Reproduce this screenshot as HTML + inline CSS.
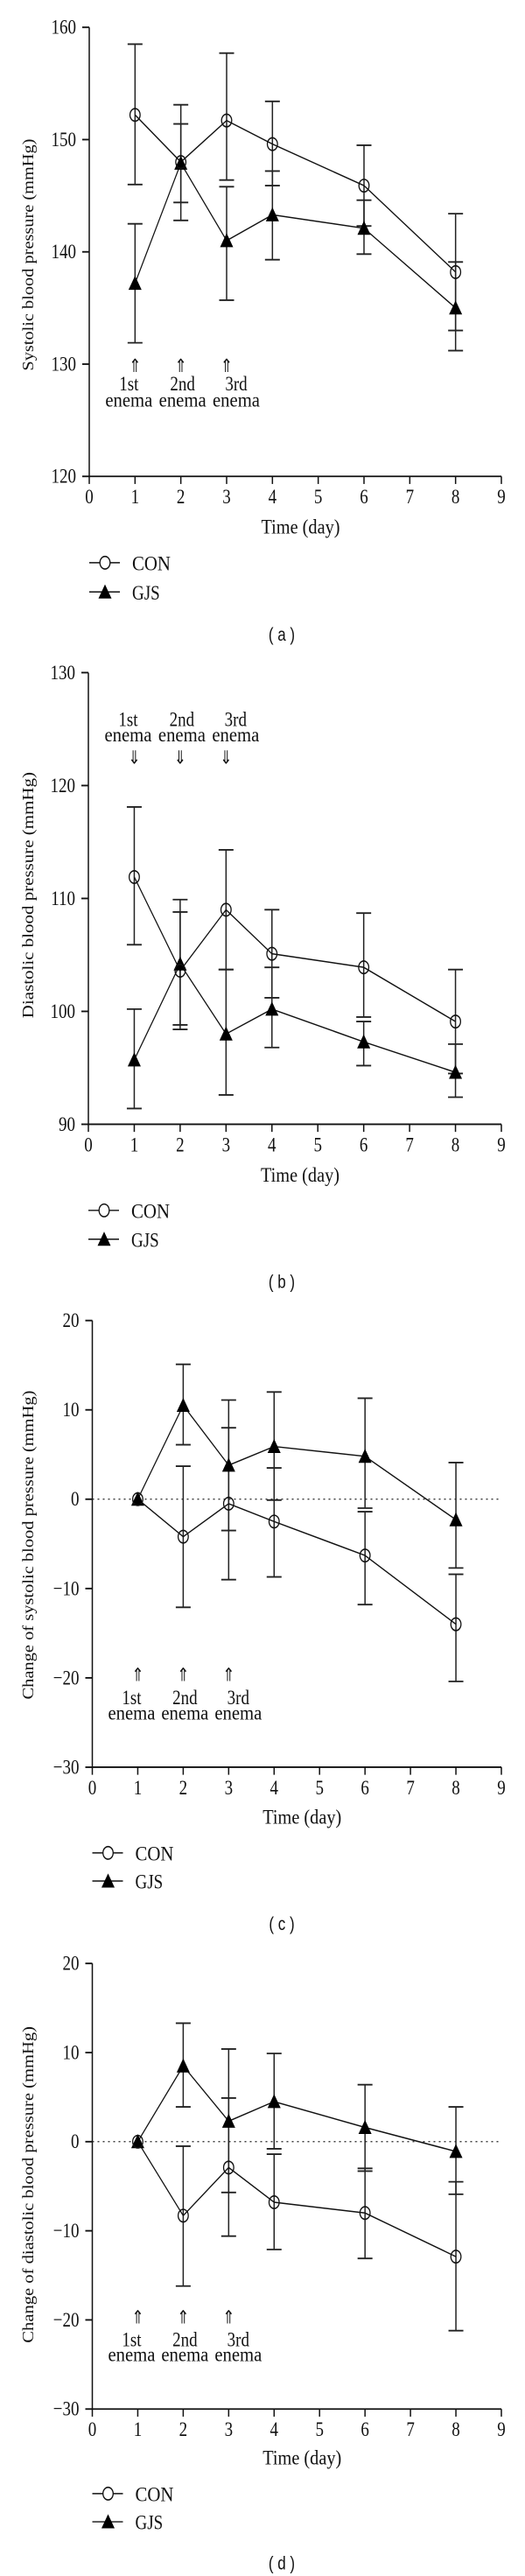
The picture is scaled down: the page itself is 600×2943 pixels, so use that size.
<!DOCTYPE html>
<html><head><meta charset="utf-8"><style>
html,body{margin:0;padding:0;background:#fff;}
svg{display:block;}
text{font-family:"Liberation Serif",serif;fill:#111;}
.sans{font-family:"Liberation Sans",sans-serif;}
</style></head><body>
<svg id="fig" width="600" height="2943" viewBox="0 0 600 2376" preserveAspectRatio="none" xmlns="http://www.w3.org/2000/svg"></svg>
<script>
// ---- data ----
const days = [1, 2, 3, 4, 6, 8];
const xTicks = [0,1,2,3,4,5,6,7,8,9];
const enemaLabels = ["1st", "2nd", "3rd"];
const enemaDays = [1, 2, 3];

// Panel a: systolic
const aTicks = [120, 130, 140, 150, 160];
const aConMean = [152.2, 148.0, 151.7, 149.6, 145.9, 138.2];
const aConHi   = [158.5, 151.4, 157.7, 153.4, 149.5, 143.4];
const aConLo   = [146.0, 144.4, 146.4, 145.9, 142.3, 133.0];
const aGjsMean = [137.2, 147.9, 141.0, 143.3, 142.1, 135.0];
const aGjsHi   = [142.5, 153.1, 145.8, 147.2, 144.6, 139.1];
const aGjsLo   = [131.9, 142.8, 135.7, 139.3, 139.8, 131.2];

// Panel b: diastolic
const bTicks = [90, 100, 110, 120, 130];
const bConMean = [111.9, 103.6, 109.0, 105.1, 103.9, 99.1];
const bConHi   = [118.1, 108.8, 114.3, 109.0, 108.7, 103.7];
const bConLo   = [105.9, 98.8, 103.7, 101.2, 99.5, 94.5];
const bGjsMean = [95.7, 104.2, 98.0, 100.2, 97.3, 94.6];
const bGjsHi   = [100.2, 109.9, 103.7, 103.9, 99.1, 97.1];
const bGjsLo   = [91.4, 98.4, 92.6, 96.8, 95.2, 92.4];

// Panel c: change of systolic
const cTicks = [-30, -20, -10, 0, 10, 20];
const cConMean = [0, -4.2, -0.5, -2.5, -6.3, -14.0];
const cConHi   = [0, 3.7, 8.0, 3.5, -1.4, -8.4];
const cConLo   = [0, -12.1, -9.0, -8.7, -11.8, -20.4];
const cGjsMean = [0, 10.5, 3.8, 5.9, 4.8, -2.3];
const cGjsHi   = [0, 15.1, 11.1, 12.0, 11.3, 4.1];
const cGjsLo   = [0, 6.1, -3.5, -0.1, -1.0, -7.7];

// Panel d: change of diastolic
const dTicks = [-30, -20, -10, 0, 10, 20];
const dConMean = [0, -8.3, -2.9, -6.8, -8.0, -12.9];
const dConHi   = [0, -0.5, 4.9, -1.4, -3.0, -4.5];
const dConLo   = [0, -16.2, -10.6, -12.1, -13.1, -21.2];
const dGjsMean = [0, 8.5, 2.3, 4.5, 1.6, -1.1];
const dGjsHi   = [0, 13.3, 10.4, 9.9, 6.4, 3.9];
const dGjsLo   = [0, 3.9, -5.7, -0.8, -3.3, -5.9];

const NS = "http://www.w3.org/2000/svg";
const svg = document.getElementById('fig');
function mk(tag, attrs, parent) {
  const e = document.createElementNS(NS, tag);
  for (const k in attrs) e.setAttribute(k, attrs[k]);
  (parent || svg).appendChild(e);
  return e;
}

function drawPanel(p) {
  const g = mk('g', {});
  
  
  const x = v => p.x0 + (v - 0) * (p.x9 - p.x0) / 9;
  const y = v => p.yBot + (v - p.yMin) * (p.yTop - p.yBot) / (p.yMax - p.yMin);
  const ax = mk('path', {d: `M${p.x0},${y(p.yMax)} L${p.x0},${p.yBot} L${p.x9},${p.yBot}`, fill: 'none', stroke: '#111', 'stroke-width': 1.5}, g);
  
  
  p.yTicks.forEach(t => {
    mk('line', {x1: p.x0 - 8, x2: p.x0, y1: y(t), y2: y(t), stroke: '#111', 'stroke-width': 1.5}, g);
    const tl = mk('text', {x: p.x0 - 15, y: y(t) + 6, 'text-anchor': 'end', 'font-size': 19}, g);
    tl.textContent = t < 0 ? '\u2212' + Math.abs(t) : String(t);
    
    
  });
  xTicks.forEach(t => {
    mk('line', {x1: x(t), x2: x(t), y1: p.yBot, y2: p.yBot + 7, stroke: '#111', 'stroke-width': 1.5}, g);
    const tl = mk('text', {x: x(t), y: p.yBot + 25, 'text-anchor': 'middle', 'font-size': 19}, g);
    tl.textContent = String(t);
    
    
  });
  const xt = mk('text', {x: (p.x0 + p.x9) / 2 + 6, y: p.timeY + 7, 'text-anchor': 'middle', 'font-size': 19, textLength: 90, lengthAdjust: 'spacingAndGlyphs'}, g);
  xt.textContent = 'Time (day)';
  
  
  const yt = mk('text', {x: 0, y: 0, 'text-anchor': 'middle', 'font-size': 18, textLength: p.titleLen, lengthAdjust: 'spacingAndGlyphs', transform: `translate(38,${p.titleY}) rotate(-90)`}, g);
  yt.textContent = p.title;
  
  
  if (p.zeroLine) {
    const zl = mk('line', {x1: p.x0, x2: p.x9, y1: y(0), y2: y(0), stroke: '#222', 'stroke-width': 1, 'stroke-dasharray': '2,4'}, g);
    
    
  }
  enemaDays.forEach((d, i) => {
    const ar = mk('text', {x: x(d), y: p.arrowY + 7, 'text-anchor': 'middle', 'font-size': 17}, g);
    ar.textContent = p.arrowDown ? '\u21D3' : '\u21D1';
    
    
    const cx = x(d) - 7 + i * 9;
    const l1 = mk('text', {x: cx, y: p.l1Y + 7, 'text-anchor': 'middle', 'font-size': 19}, g);
    l1.textContent = enemaLabels[i];
    
    
    const l2 = mk('text', {x: cx, y: p.l2Y + 6, 'text-anchor': 'middle', 'font-size': 19, textLength: 54, lengthAdjust: 'spacingAndGlyphs'}, g);
    l2.textContent = 'enema';
    
    
  });
  function errs(hi, lo, name) {
    days.forEach((d, i) => {
      if (hi[i] === lo[i]) return;
      const eb = mk('path', {d: `M${x(d)},${y(hi[i])} L${x(d)},${y(lo[i])} M${x(d)-8.5},${y(hi[i])} L${x(d)+8.5},${y(hi[i])} M${x(d)-8.5},${y(lo[i])} L${x(d)+8.5},${y(lo[i])}`, fill: 'none', stroke: '#222', 'stroke-width': 1.5}, g);
      
      
    });
  }
  errs(p.conHi, p.conLo, 'con-error-bar');
  errs(p.gjsHi, p.gjsLo, 'gjs-error-bar');
  const lc = mk('polyline', {points: days.map((d, i) => `${x(d)},${y(p.con[i])}`).join(' '), fill: 'none', stroke: '#111', 'stroke-width': 1.2}, g);
  
  
  const lg = mk('polyline', {points: days.map((d, i) => `${x(d)},${y(p.gjs[i])}`).join(' '), fill: 'none', stroke: '#111', 'stroke-width': 1.2}, g);
  
  
  days.forEach((d, i) => {
    const tri = mk('path', {d: `M${x(d)},${y(p.gjs[i]) - 7} L${x(d)+7.5},${y(p.gjs[i]) + 6} L${x(d)-7.5},${y(p.gjs[i]) + 6} Z`, fill: '#000'}, g);
    
    
  });
  days.forEach((d, i) => {
    const c = mk('circle', {cx: x(d), cy: y(p.con[i]), r: 5.8, fill: 'none', stroke: '#111', 'stroke-width': 1.3}, g);
    
    
  });
  const lx = p.x0;
  const le1 = mk('g', {}, g);
  
  
  mk('line', {x1: lx, x2: lx + 35, y1: p.legY1, y2: p.legY1, stroke: '#111', 'stroke-width': 1.2}, le1);
  mk('circle', {cx: lx + 18, cy: p.legY1, r: 5.8, fill: '#fff', stroke: '#111', 'stroke-width': 1.3}, le1);
  const t1 = mk('text', {x: lx + 49, y: p.legY1 + 7, 'font-size': 19, textLength: 44, lengthAdjust: 'spacingAndGlyphs'}, le1);
  t1.textContent = 'CON';
  const le2 = mk('g', {}, g);
  
  
  mk('line', {x1: lx, x2: lx + 35, y1: p.legY2, y2: p.legY2, stroke: '#111', 'stroke-width': 1.2}, le2);
  mk('path', {d: `M${lx+18},${p.legY2-7} L${lx+25.5},${p.legY2+6} L${lx+10.5},${p.legY2+6} Z`, fill: '#000'}, le2);
  const t2 = mk('text', {x: lx + 49, y: p.legY2 + 7, 'font-size': 19}, le2);
  t2.textContent = 'GJS';
  const cap = mk('text', {x: 322, y: p.capY + 6, 'text-anchor': 'middle', 'font-size': 17, 'class': 'sans'}, g);
  cap.textContent = '( ' + p.id + ' )';
  
  
}

drawPanel({id: 'a', x0: 102, x9: 573, yMin: 120, yMax: 160, yBot: 439.4, yTop: 25.2, yTicks: aTicks,
  con: aConMean, conHi: aConHi, conLo: aConLo, gjs: aGjsMean, gjsHi: aGjsHi, gjsLo: aGjsLo,
  title: 'Systolic blood pressure (mmHg)', titleLen: 214, titleY: 235,
  timeY: 485, legY1: 519, legY2: 546, capY: 585, arrowY: 336, l1Y: 353, l2Y: 369, arrowDown: false, zeroLine: false});
drawPanel({id: 'b', x0: 101, x9: 573, yMin: 90, yMax: 130, yBot: 1037, yTop: 620.4, yTicks: bTicks,
  con: bConMean, conHi: bConHi, conLo: bConLo, gjs: bGjsMean, gjsHi: bGjsHi, gjsLo: bGjsLo,
  title: 'Diastolic blood pressure (mmHg)', titleLen: 227, titleY: 825.6,
  timeY: 1083, legY1: 1116.4, legY2: 1143, capY: 1182, arrowY: 697.6, l1Y: 662.5, l2Y: 677.7, arrowDown: true, zeroLine: false});
drawPanel({id: 'c', x0: 105.5, x9: 573, yMin: -30, yMax: 20, yBot: 1630, yTop: 1218, yTicks: cTicks,
  con: cConMean, conHi: cConHi, conLo: cConLo, gjs: cGjsMean, gjsHi: cGjsHi, gjsLo: cGjsLo,
  title: 'Change of systolic blood pressure (mmHg)', titleLen: 285, titleY: 1425,
  timeY: 1675, legY1: 1709, legY2: 1735, capY: 1774, arrowY: 1543.5, l1Y: 1565, l2Y: 1580, arrowDown: false, zeroLine: true});
drawPanel({id: 'd', x0: 105.5, x9: 573, yMin: -30, yMax: 20, yBot: 2222, yTop: 1811, yTicks: dTicks,
  con: dConMean, conHi: dConHi, conLo: dConLo, gjs: dGjsMean, gjsHi: dGjsHi, gjsLo: dGjsLo,
  title: 'Change of diastolic blood pressure (mmHg)', titleLen: 292, titleY: 2015,
  timeY: 2266, legY1: 2300, legY2: 2326, capY: 2364, arrowY: 2136, l1Y: 2157, l2Y: 2172, arrowDown: false, zeroLine: true});
</script>
</body></html>
